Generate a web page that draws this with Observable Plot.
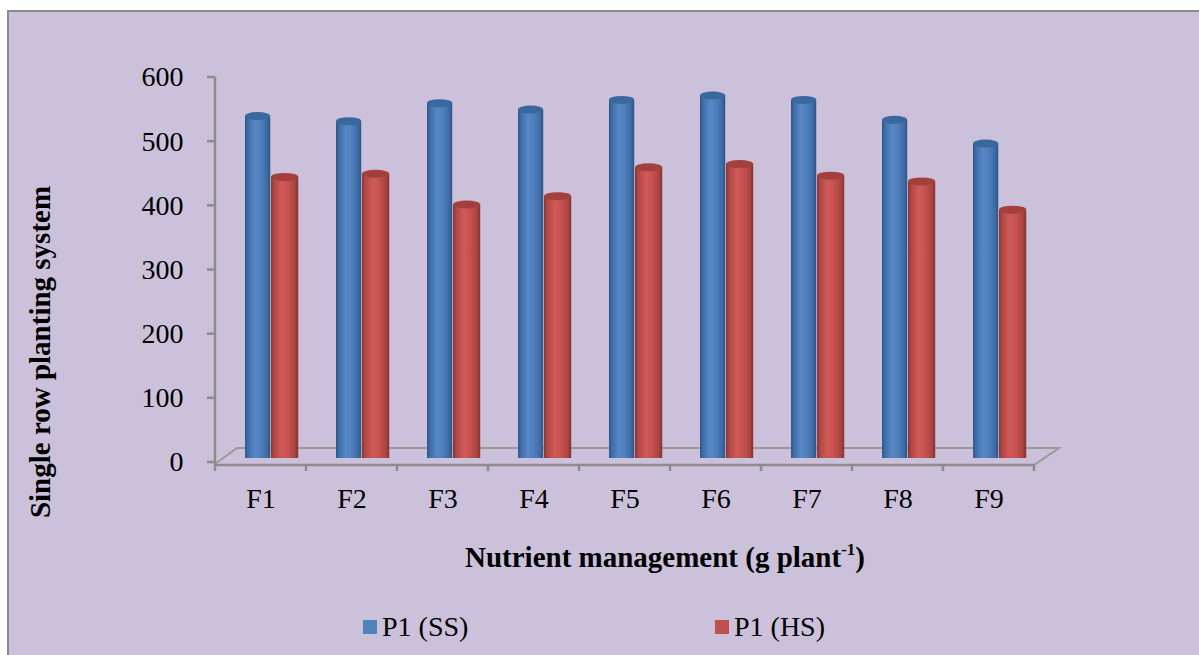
<!DOCTYPE html>
<html>
<head>
<meta charset="utf-8">
<script src="https://cdn.jsdelivr.net/npm/d3@7"></script>
<script src="https://cdn.jsdelivr.net/npm/@observablehq/plot@0.6"></script>
<style>
  html, body { margin: 0; padding: 0; background: #fff; }
  #wrap { position: relative; width: 1199px; height: 655px; overflow: hidden; background: #fff;
          font-family: "Liberation Serif", "Times New Roman", serif; color: #000; }
  #panel { position: absolute; left: 7px; top: 10px; width: 1210px; height: 670px;
           background: #ccc1da; border: 2px solid #8c8c8c; box-sizing: border-box; }
  #chart { position: absolute; left: 0; top: 0; }
  .ytitle { position: absolute; left: 40px; top: 352px; transform: translate(-50%, -50%) rotate(-90deg);
            font-weight: bold; font-size: 29px; white-space: nowrap; }
  .xtitle { position: absolute; left: 665px; top: 557px; transform: translate(-50%, -50%);
            font-weight: bold; font-size: 29px; white-space: nowrap; }
  .xtitle sup { font-size: 17px; vertical-align: 12px; line-height: 0; }
  .legend-item { position: absolute; top: 611px; font-size: 28px; white-space: nowrap; display: flex; align-items: center; }
  .legend-item .sw { width: 14px; height: 14px; margin-right: 5px; display: inline-block; }
</style>
</head>
<body>
<div id="wrap">
  <div id="panel"></div>
  <div id="chart"></div>
  <div class="ytitle">Single row planting system</div>
  <div class="xtitle">Nutrient management (g plant<sup>-1</sup>)</div>
  <div class="legend-item" style="left:363px"><span class="sw" style="background:#4f81bd"></span>P1 (SS)</div>
  <div class="legend-item" style="left:715px"><span class="sw" style="background:#c0504d"></span>P1 (HS)</div>
</div>
<script>
// Nutrient management treatments and the two planting series
const categories = ["F1", "F2", "F3", "F4", "F5", "F6", "F7", "F8", "F9"];
const ssValues = [533, 525, 553, 543, 558, 565, 558, 527, 490];
const hsValues = [438, 443, 395, 408, 453, 458, 440, 431, 387];
const yTicks = [0, 100, 200, 300, 400, 500, 600];

const ssRows = categories.map((c, i) => ({cat: c, value: ssValues[i]}));
const hsRows = categories.map((c, i) => ({cat: c, value: hsValues[i]}));

const W = 1199, H = 610;
const axisGray = "#8c8c8c";
const lift = -4; // bars stand slightly back on the floor

// cylinder shading gradients
function defs() {
  const g = d3.create("svg:g");
  const d = g.append("defs");
  const mk = (id, stops) => {
    const lg = d.append("linearGradient").attr("id", id).attr("x1", 0).attr("x2", 1).attr("y1", 0).attr("y2", 0);
    stops.forEach(([o, c]) => lg.append("stop").attr("offset", o).attr("stop-color", c));
  };
  mk("cylBlue", [[0, "#2f5689"], [0.12, "#3f6ea8"], [0.4, "#5788c6"], [0.62, "#4f80bd"], [0.88, "#3e6aa3"], [1, "#2d5285"]]);
  mk("cylRed", [[0, "#8a3533"], [0.12, "#b04845"], [0.4, "#d05b58"], [0.62, "#c6524f"], [0.88, "#a94442"], [1, "#843230"]]);
  return g.node();
}

// floor, axis lines and ticks
function frame(index, scales) {
  const x = scales.x, y = scales.y;
  const bw = x.bandwidth();
  const xl = x(categories[0]), xr = x(categories[categories.length - 1]) + bw;
  const y0 = y(0);
  const g = d3.create("svg:g").attr("stroke", axisGray).attr("fill", "none").attr("stroke-width", 2.5);
  // floor back edge and side edges
  g.append("path").attr("stroke", "#9a9a9a").attr("stroke-width", 2)
    .attr("d", `M${xl},${y0 + 2}L${xl + 22},${y0 - 14}L${xr + 25},${y0 - 14}L${xr},${y0 + 3}`);
  // vertical axis
  g.append("line").attr("x1", xl).attr("x2", xl).attr("y1", y(600)).attr("y2", y0 + 9);
  yTicks.forEach(t => g.append("line").attr("x1", xl - 8).attr("x2", xl).attr("y1", y(t)).attr("y2", y(t)));
  // front edge with category ticks
  g.append("line").attr("x1", xl).attr("x2", xr).attr("y1", y0 + 3).attr("y2", y0 + 3);
  categories.forEach(c => {
    const xx = x(c) + bw;
    g.append("line").attr("x1", xx).attr("x2", xx).attr("y1", y0 + 3).attr("y2", y0 + 9);
  });
  return g.node();
}

// cylinder caps on top of each bar
function caps(rows, insetL, insetR, color) {
  return (index, scales) => {
    const x = scales.x, y = scales.y;
    const bw = x.bandwidth();
    const g = d3.create("svg:g");
    rows.forEach(r => {
      const x1 = x(r.cat) + insetL, x2 = x(r.cat) + bw - insetR;
      g.append("ellipse")
        .attr("cx", (x1 + x2) / 2).attr("cy", y(r.value) + lift)
        .attr("rx", (x2 - x1) / 2).attr("ry", 4)
        .attr("fill", color);
    });
    return g.node();
  };
}

const band = (1037 - 211) / categories.length;
const blueL = 30, blueR = band - 56;
const redL = 56, redR = band - 84;

const chart = Plot.plot({
  width: W,
  height: H,
  marginLeft: 211,
  marginRight: W - 1037,
  marginTop: 77,
  marginBottom: H - 462,
  style: {background: "transparent", fontFamily: "'Liberation Serif', 'Times New Roman', serif", fontSize: "28px", color: "#000"},
  x: {type: "band", domain: categories, paddingInner: 0, paddingOuter: 0, axis: null},
  y: {domain: [0, 600], axis: null},
  marks: [
    defs,
    frame,
    Plot.axisY({ticks: yTicks, tickSize: 0, tickPadding: 28, label: null, fill: "#000", fontSize: 28}),
    Plot.axisX({tickSize: 0, tickPadding: 26, label: null, fill: "#000", fontSize: 28}),
    Plot.barY(ssRows, {x: "cat", y1: 0, y2: "value", fill: "url(#cylBlue)", insetLeft: blueL, insetRight: blueR, dy: lift}),
    caps(ssRows, blueL, blueR, "#3a679e"),
    Plot.barY(hsRows, {x: "cat", y1: 0, y2: "value", fill: "url(#cylRed)", insetLeft: redL, insetRight: redR, dy: lift}),
    caps(hsRows, redL, redR, "#a3403e")
  ]
});

document.getElementById("chart").appendChild(chart);
</script>
</body>
</html>
